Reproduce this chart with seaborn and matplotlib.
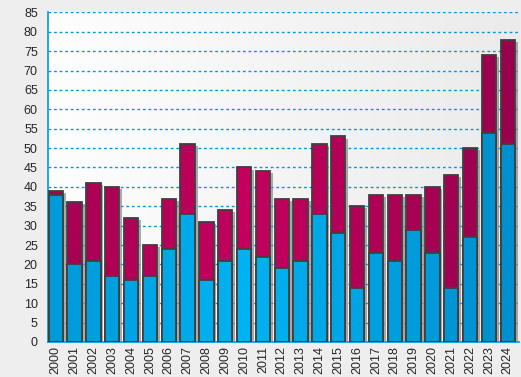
import numpy as np
import pandas as pd
import matplotlib
matplotlib.use("Agg")
import matplotlib.pyplot as plt
import matplotlib.patheffects as pe
import seaborn as sns

years = [str(y) for y in range(2000, 2025)]
lower = [38, 20, 21, 17, 16, 17, 24, 33, 16, 21, 24, 22, 19, 21, 33, 28, 14, 23, 21, 29, 23, 14, 27, 54, 51]
totals = [39, 36, 41, 40, 32, 25, 37, 51, 31, 34, 45, 44, 37, 37, 51, 53, 35, 38, 38, 38, 40, 43, 50, 74, 78]

df = pd.DataFrame({"year": years, "lower": lower, "total": totals})

sns.set_style("white")
plt.rcParams['font.family'] = ['Liberation Sans', 'DejaVu Sans']

fig = plt.figure(figsize=(5.21, 3.77), dpi=100, facecolor="#eeeeee")
ax = fig.add_axes([0.0912, 0.093, 0.905, 0.874])

# soft light gradient behind the plot
grad = np.linspace(0, 1, 256).reshape(1, -1)
ax.imshow(grad, extent=[0, 1, 0, 1], transform=ax.transAxes, aspect="auto",
          cmap=matplotlib.colors.LinearSegmentedColormap.from_list("bg", ["#fefefe", "#ebebeb"]),
          zorder=0)

# per-bar shading: lighter near the middle, darker at the ends
n = len(years)
w = np.clip(1 - np.abs(np.arange(n) - 10) / 15, 0, 1)
def mix(c1, c2, t):
    a = np.array(matplotlib.colors.to_rgb(c1)); b = np.array(matplotlib.colors.to_rgb(c2))
    return tuple(a + (b - a) * t)
top_cols = [mix("#96004c", "#c4005e", t) for t in w]
low_cols = [mix("#008ccc", "#00b2f2", t) for t in w]

shadow = [pe.SimplePatchShadow(offset=(2, -1.5), shadow_rgbFace="#888888", alpha=0.7), pe.Normal()]

sns.barplot(data=df, x="year", y="total", hue="year", palette=top_cols, legend=False,
            width=0.76, edgecolor="#404040", linewidth=1.3, saturation=1, ax=ax, zorder=3)
for p in ax.patches:
    p.set_path_effects(shadow)
k = len(ax.patches)
sns.barplot(data=df, x="year", y="lower", hue="year", palette=low_cols, legend=False,
            width=0.76, edgecolor="#404040", linewidth=1.3, saturation=1, ax=ax, zorder=4)
for p in ax.patches[k:]:
    p.set_zorder(4)

ax.set_xlim(-0.44, n - 0.56)
ax.set_ylim(0, 85)
ax.set_yticks(range(0, 90, 5))
ax.yaxis.grid(True, color="#0099dd", linestyle=(0, (2, 2)), linewidth=1)
ax.set_axisbelow(True)
for s in ["top", "right"]:
    ax.spines[s].set_visible(False)
for s in ["left", "bottom"]:
    ax.spines[s].set_color("#0099dd")
    ax.spines[s].set_linewidth(1.2)

ax.tick_params(axis="x", which="major", length=0, labelrotation=90, labelsize=9, pad=3)
ax.set_xticks(np.arange(n) + 0.6, minor=True)
ax.tick_params(axis="x", which="minor", length=4, color="#0099dd", width=1.2)
ax.tick_params(axis="y", length=5, color="#0099dd", width=1.2, labelsize=9, pad=2)
ax.set_xlabel("")
ax.set_ylabel("")

fig.savefig("out.png", dpi=100, facecolor=fig.get_facecolor())
